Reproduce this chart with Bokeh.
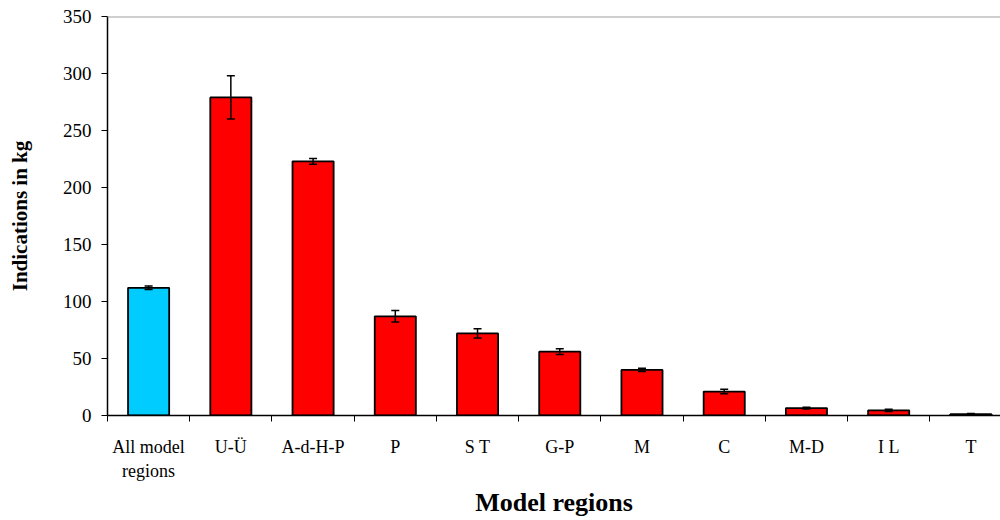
from bokeh.plotting import figure
from bokeh.models import ColumnDataSource, Whisker, TeeHead, FixedTicker, Span, Range1d
from bokeh.embed import file_html
from bokeh.resources import INLINE

categories = ["All model\nregions", "U-Ü", "A-d-H-P", "P", "S T", "G-P", "M", "C", "M-D", "I L", "T"]
values = [112, 279, 223, 87, 72, 56, 40, 21, 6.5, 4.5, 1.2]
errors = [1.5, 19, 2.5, 5, 4, 2.5, 1.5, 2, 0.7, 1.0, 0.5]
colors = ["#00CCFF"] + ["#FF0000"] * 10
y_ticks = [0, 50, 100, 150, 200, 250, 300, 350]

xs = list(range(len(categories)))
src = ColumnDataSource(dict(
    x=xs, top=values, color=colors,
    upper=[v + e for v, e in zip(values, errors)],
    lower=[v - e for v, e in zip(values, errors)],
))

FONT = "Liberation Serif"
p = figure(width=1000, height=520, output_backend="svg", toolbar_location=None,
           x_range=Range1d(-0.5, 10.36), y_range=Range1d(0, 350),
           min_border_left=107, min_border_right=0, min_border_top=16, min_border_bottom=105)
p.outline_line_color = None
p.xgrid.visible = False
p.ygrid.visible = False

p.vbar(x="x", top="top", width=0.5, source=src, fill_color="color",
       line_color="black", line_width=1.8)
w = Whisker(base="x", upper="upper", lower="lower", source=src, line_color="black", line_width=1.5,
            level="overlay",
            upper_head=TeeHead(size=8, line_color="black", line_width=1.5),
            lower_head=TeeHead(size=8, line_color="black", line_width=1.5))
p.add_layout(w)
p.add_layout(Span(location=350, dimension="width", line_color="#a0a0a0", line_width=2))

# x axis
p.xaxis.ticker = FixedTicker(ticks=xs, minor_ticks=[i - 0.5 for i in range(11)])
p.xaxis.major_label_overrides = {i: c for i, c in enumerate(categories)}
p.xaxis.major_tick_out = 0
p.xaxis.major_tick_in = 0
p.xaxis.minor_tick_out = 6
p.xaxis.minor_tick_in = 0
p.xaxis.minor_tick_line_color = "black"
p.xaxis.axis_line_color = "black"
p.xaxis.axis_line_width = 1.5
p.xaxis.major_label_text_font = FONT
p.xaxis.major_label_text_font_size = "18px"
p.xaxis.major_label_text_color = "black"
p.xaxis.major_label_standoff = 15
p.xaxis.axis_label = "Model regions"
p.xaxis.axis_label_text_font = FONT
p.xaxis.axis_label_text_font_size = "26px"
p.xaxis.axis_label_text_font_style = "bold"
p.xaxis.axis_label_text_color = "black"
p.xaxis.axis_label_standoff = 4

# y axis
p.yaxis.ticker = FixedTicker(ticks=y_ticks)
p.yaxis.minor_tick_line_color = None
p.yaxis.major_tick_out = 6
p.yaxis.major_tick_in = 0
p.yaxis.major_tick_line_color = "black"
p.yaxis.axis_line_color = "black"
p.yaxis.axis_line_width = 1.5
p.yaxis.major_label_text_font = FONT
p.yaxis.major_label_text_font_size = "19px"
p.yaxis.major_label_text_color = "black"
p.yaxis.major_label_standoff = 10
p.yaxis.axis_label = "Indications in kg"
p.yaxis.axis_label_text_font = FONT
p.yaxis.axis_label_text_font_size = "21px"
p.yaxis.axis_label_text_font_style = "bold"
p.yaxis.axis_label_text_color = "black"
p.yaxis.axis_label_standoff = 28

open("out.html", "w").write(file_html(p, INLINE))
